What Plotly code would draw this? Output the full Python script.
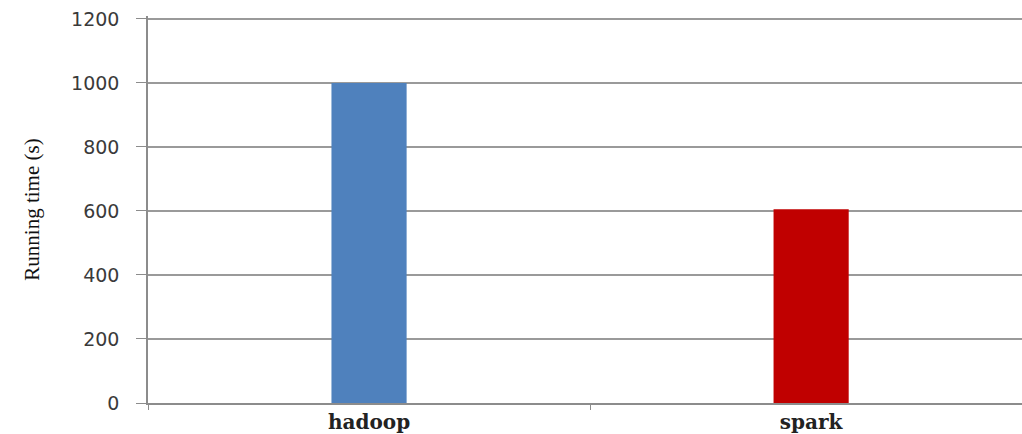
import plotly.graph_objects as go

categories = ["hadoop", "spark"]
running_time = [1000, 605]
bar_colors = ["#4F81BD", "#C00000"]
y_ticks = [0, 200, 400, 600, 800, 1000, 1200]

fig = go.Figure(go.Bar(
    x=categories, y=running_time,
    marker=dict(color=bar_colors, line=dict(width=0)),
    width=0.17,
))

fig.update_layout(
    width=1022, height=434,
    margin=dict(l=148, r=0, t=16, b=29),
    plot_bgcolor="white", paper_bgcolor="white",
    showlegend=False,
    xaxis=dict(
        range=[-0.5, 1.477],
        showline=True, linecolor="#8c8c8c", linewidth=1.5,
        ticks="outside", tickson="boundaries", ticklen=5, tickcolor="#8c8c8c",
        showgrid=False,
        tickfont=dict(family="DejaVu Serif", size=20, color="#222222", weight="bold"),
    ),
    yaxis=dict(
        range=[0, 1209], tickvals=y_ticks,
        showline=True, linecolor="#8c8c8c", linewidth=1.5,
        ticks="outside", ticklen=10, tickcolor="#8c8c8c",
        showgrid=True, gridcolor="#9a9a9a", gridwidth=1.5,
        zeroline=False,
        tickfont=dict(family="DejaVu Sans", size=19, color="#3a3a3a"),
        ticklabelstandoff=13,
        title=dict(text="Running time (s)", font=dict(family="Liberation Serif", size=21, color="#111111"), standoff=26),
    ),
)

fig.write_html("out.html")
